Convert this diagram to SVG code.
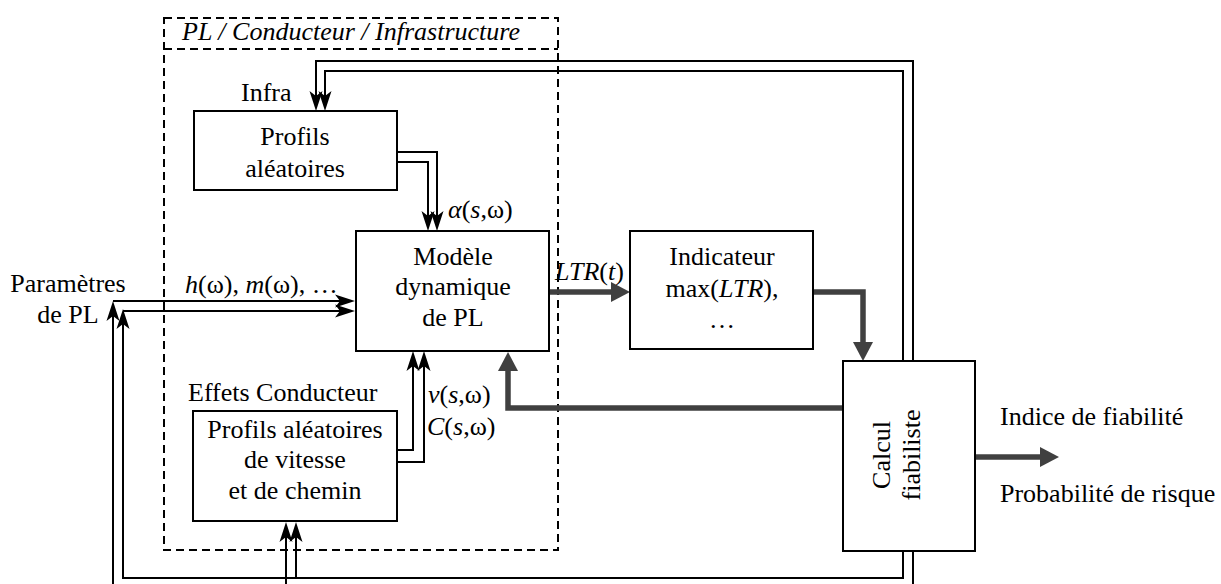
<svg xmlns="http://www.w3.org/2000/svg" width="1221" height="584" viewBox="0 0 1221 584">
<style>
text{font-family:"Liberation Serif","Times New Roman",serif;font-size:26px;fill:#000}
.c{text-anchor:middle}
.i{font-style:italic}
.box{fill:#fff;stroke:#000;stroke-width:2}
.w{fill:none;stroke:#000;stroke-width:2}
.g{fill:none;stroke:#404040;stroke-width:5.5;stroke-linejoin:miter}
.dash{fill:none;stroke:#000;stroke-width:2;stroke-dasharray:8,5}
</style>
<defs>
<marker id="ab" markerUnits="userSpaceOnUse" markerWidth="26" markerHeight="16" viewBox="-18 -8 26 16" refX="0" refY="0" orient="auto" overflow="visible">
<path d="M-16,-6.5 L4,0 L-16,6.5 L-11,0 Z" fill="#000"/>
</marker>
<marker id="ag" markerUnits="userSpaceOnUse" markerWidth="26" markerHeight="24" viewBox="-8 -12 26 24" refX="0" refY="0" orient="auto" overflow="visible">
<path d="M-7,-10 L12,0 L-7,10 Z" fill="#404040"/>
</marker>
</defs>

<g id="cadre">
<rect class="dash" x="164" y="18" width="394" height="532"/>
<line class="dash" x1="164" y1="49" x2="558" y2="49"/>
<text class="i" x="182" y="40">PL / Conducteur / Infrastructure</text>
</g>

<g id="connectors">
<path class="w" d="M913,361 V61 H316 V107" marker-end="url(#ab)"/>
<path class="w" d="M903,361 V71 H325 V107" marker-end="url(#ab)"/>
<path class="w" d="M903,551 V578 H123 V313" marker-end="url(#ab)"/>
<path class="w" d="M913,551 V590 H113 V305" marker-end="url(#ab)"/>
<path class="w" d="M296,578 V526" marker-end="url(#ab)"/>
<path class="w" d="M286,590 V526" marker-end="url(#ab)"/>
<path class="w" d="M113,301 H351" marker-end="url(#ab)"/>
<path class="w" d="M123,311 H351" marker-end="url(#ab)"/>
<path class="w" d="M397,152 H437 V227" marker-end="url(#ab)"/>
<path class="w" d="M397,162 H428 V227" marker-end="url(#ab)"/>
<path class="w" d="M397,450 H413 V355" marker-end="url(#ab)"/>
<path class="w" d="M397,462 H424 V355" marker-end="url(#ab)"/>
<path class="g" d="M549,292 H618" marker-end="url(#ag)"/>
<path class="g" d="M813,292 H863 V349" marker-end="url(#ag)"/>
<path class="g" d="M843,408 H508 V364" marker-end="url(#ag)"/>
<path class="g" d="M975,457 H1047" marker-end="url(#ag)"/>
<text class="c" x="68" y="292">Paramètres</text>
<text class="c" x="68" y="323">de PL</text>
<text x="185" y="293"><tspan class="i">h</tspan>(ω), <tspan class="i">m</tspan>(ω), …</text>
<text x="448" y="218"><tspan class="i">α</tspan>(<tspan class="i">s</tspan>,ω)</text>
<text x="428" y="403"><tspan class="i">v</tspan>(<tspan class="i">s</tspan>,ω)</text>
<text x="427" y="435"><tspan class="i">C</tspan>(<tspan class="i">s</tspan>,ω)</text>
<text x="555" y="280"><tspan class="i">LTR</tspan>(<tspan class="i">t</tspan>)</text>
<text x="1000" y="425">Indice de fiabilité</text>
<text x="1000" y="502">Probabilité de risque</text>
</g>

<g id="infra">
<text x="241" y="101">Infra</text>
<rect class="box" x="194" y="111" width="203" height="79"/>
<text class="c" x="295" y="145">Profils</text>
<text class="c" x="295" y="177">aléatoires</text>
</g>

<g id="modele">
<rect class="box" x="356" y="231" width="193" height="120"/>
<text class="c" x="453" y="265">Modèle</text>
<text class="c" x="453" y="295">dynamique</text>
<text class="c" x="453" y="326">de PL</text>
</g>

<g id="conducteur">
<text x="188" y="401">Effets Conducteur</text>
<rect class="box" x="193" y="411" width="204" height="110"/>
<text class="c" x="295" y="438">Profils aléatoires</text>
<text class="c" x="295" y="468">de vitesse</text>
<text class="c" x="295" y="499">et de chemin</text>
</g>

<g id="indicateur">
<rect class="box" x="630" y="231" width="183" height="118"/>
<text class="c" x="722" y="265">Indicateur</text>
<text class="c" x="722" y="297">max(<tspan class="i">LTR</tspan>),</text>
<text class="c" x="722" y="328">…</text>
</g>

<g id="calcul">
<rect class="box" x="843" y="361" width="132" height="190"/>
<text class="c" x="890" y="455" transform="rotate(-90 890 455)">Calcul</text>
<text class="c" x="920" y="455" transform="rotate(-90 920 455)">fiabiliste</text>
</g>
</svg>
